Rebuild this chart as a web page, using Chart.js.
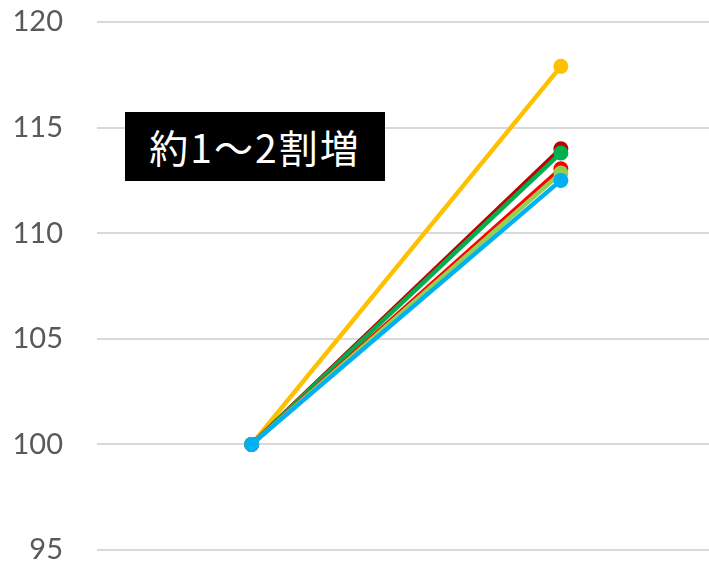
<!DOCTYPE html>
<html>
<head>
<meta charset="utf-8">
<script src="https://cdn.jsdelivr.net/npm/chart.js@4"></script>
<style>
  html, body { margin: 0; padding: 0; background: #fff; overflow: hidden; }
  #wrap { position: relative; width: 723px; height: 563px; }
  #note {
    position: absolute; left: 125px; top: 112px; width: 260px; height: 69px;
    background: #000; color: #fff;
    font-family: "Noto Sans CJK JP", sans-serif; font-size: 39px;
    line-height: 69px; text-align: center; letter-spacing: 2px;
  }
</style>
</head>
<body>
<div id="wrap">
  <canvas id="chart" width="723" height="563"></canvas>
  <div id="note">約1～2割増</div>
</div>
<script>
const labels = ['前', '後'];
const yTicks = [95, 100, 105, 110, 115, 120];

const blueValues = [100, 112.5];
const limeValues = [100, 112.85];
const redValues = [100, 113.05];
const greenValues = [100, 113.8];
const darkRedValues = [100, 114.0];
const orangeValues = [100, 117.9];

function series(data, color) {
    return {
        data: data,
        borderColor: color,
        backgroundColor: color,
        borderWidth: 4.5,
        pointRadius: 7.5,
        pointHoverRadius: 7.5,
        pointBorderWidth: 0,
    };
}

const ctx = document.getElementById('chart').getContext('2d');
new Chart(ctx, {
    type: 'line',
    data: {
        labels: labels,
        // first dataset is drawn on top
        datasets: [
            series(blueValues, '#00B0F0'),
            series(limeValues, '#92D050'),
            series(redValues, '#FF0000'),
            series(greenValues, '#00B050'),
            series(darkRedValues, '#C00000'),
            series(orangeValues, '#FFC000'),
        ]
    },
    options: {
        responsive: false,
        animation: false,
        layout: { padding: { top: 22, bottom: 13, left: 0, right: 2 } },
        plugins: { legend: { display: false }, tooltip: { enabled: false } },
        scales: {
            x: {
                display: false,
                offset: true,
            },
            y: {
                min: 95,
                max: 120,
                afterFit: function(scale) {
                    scale.width = 97;
                    scale.paddingTop = 0;
                    scale.paddingBottom = 0;
                },
                afterBuildTicks: function(scale) {
                    scale.ticks = yTicks.map(v => ({ value: v }));
                },
                border: { display: false },
                grid: { color: '#d9d9d9', lineWidth: 2, drawTicks: false },
                ticks: {
                    padding: 34,
                    color: '#595959',
                    font: { family: 'Lato', size: 29 },
                }
            }
        }
    }
});
</script>
</body>
</html>
